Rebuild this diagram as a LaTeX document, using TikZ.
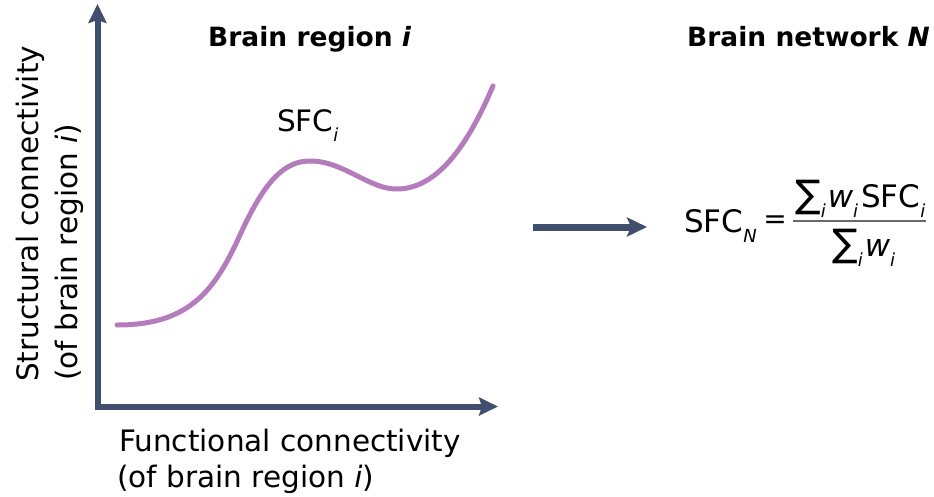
\documentclass[tikz,border=0pt]{standalone}
\usepackage{fontspec}
\setmainfont{DejaVu Sans}[
  ItalicFont={DejaVu Sans Oblique},
  BoldFont={DejaVu Sans Bold},
  BoldItalicFont={DejaVu Sans Bold Oblique}]
\usetikzlibrary{arrows.meta}

\definecolor{axisblue}{RGB}{63,79,109}
\definecolor{curvemauve}{RGB}{180,124,188}
\definecolor{rulegray}{RGB}{105,105,105}

% lowered italic subscript used throughout the labels
\newcommand\lowsub[1]{\raisebox{-10pt}{\fontsize{18}{18}\selectfont\itshape #1}}
% enlarged summation sign for the formula
\newcommand\bigsum{{\fontsize{38}{38}\selectfont ∑}}
\newcommand\lblfont{\fontsize{29.5}{34}\selectfont}
\newcommand\eqfont{\fontsize{31}{36}\selectfont}
\newcommand\ttlfont{\fontsize{26.5}{30}\selectfont\bfseries}

\begin{document}
\begin{tikzpicture}[x=1pt,y=-1pt,
  txt/.style={inner sep=0pt, anchor=base west, font=\lblfont},
  eqtxt/.style={inner sep=0pt, anchor=base west, font=\eqfont},
  ttl/.style={inner sep=0pt, anchor=base west, font=\ttlfont},
  axisline/.style={draw=axisblue, line width=6pt, line join=miter,
    {Stealth[length=19pt,width=18pt,inset=3pt]}-{Stealth[length=19pt,width=18pt,inset=3pt]}},
  bigarrow/.style={draw=axisblue, line width=7pt,
    -{Stealth[length=20pt,width=19pt,inset=4pt]}},
  curveline/.style={draw=curvemauve, line width=5pt, line cap=round},
  fracbar/.style={draw=rulegray, line width=2pt}]
\useasboundingbox (0,0) rectangle (934,496);

% axes of the plot
\coordinate (ytip) at (97.5,4);
\coordinate (origin) at (97.5,406.5);
\coordinate (xtip) at (498,406.5);
\draw[axisline] (ytip) -- (origin) -- (xtip);

% SFC curve
\draw[curveline] (117,325) .. controls (190,325) and (215,290) .. (240,235)
  .. controls (265,180) and (285,160) .. (312,161)
  .. controls (345,162) and (370,190) .. (398,189)
  .. controls (440,188) and (470,140) .. (493,86);

\node[txt] (sfci) at (277,131) {SFC\lowsub{i}};

% axis labels
\node[txt] (xlab1) at (119,451) {Functional connectivity};
\node[txt] (xlab2) at (117,487) {(of brain region \textit{i})};
\node[txt, rotate=90] (ylab1) at (38,382) {Structural connectivity};
\node[txt, rotate=90] (ylab2) at (77,381) {(of brain region \textit{i})};

% titles
\node[ttl] (title1) at (208,46) {Brain region \textit{i}};
\node[ttl] (title2) at (687,46) {Brain network \textit{N}};

% arrow towards the network formula
\coordinate (arrowtail) at (533,227);
\coordinate (arrowhead) at (647,227);
\draw[bigarrow] (arrowtail) -- (arrowhead);

% weighted average formula
\node[eqtxt] (sfcn) at (684,232) {SFC\lowsub{N}};
\node[inner sep=0pt, font=\fontsize{28}{32}\selectfont] (eq) at (775,222) {=};
\node[eqtxt] (num) at (795,207) {\bigsum\lowsub{i}\kern2pt\textit{w}\lowsub{i}\kern3pt SFC\lowsub{i}};
\node[eqtxt] (den) at (832,256) {\bigsum\lowsub{i}\kern2pt\textit{w}\lowsub{i}};
\coordinate (barL) at (793,221);
\coordinate (barR) at (926,221);
\draw[fracbar] (barL) -- (barR);
\end{tikzpicture}
\end{document}
